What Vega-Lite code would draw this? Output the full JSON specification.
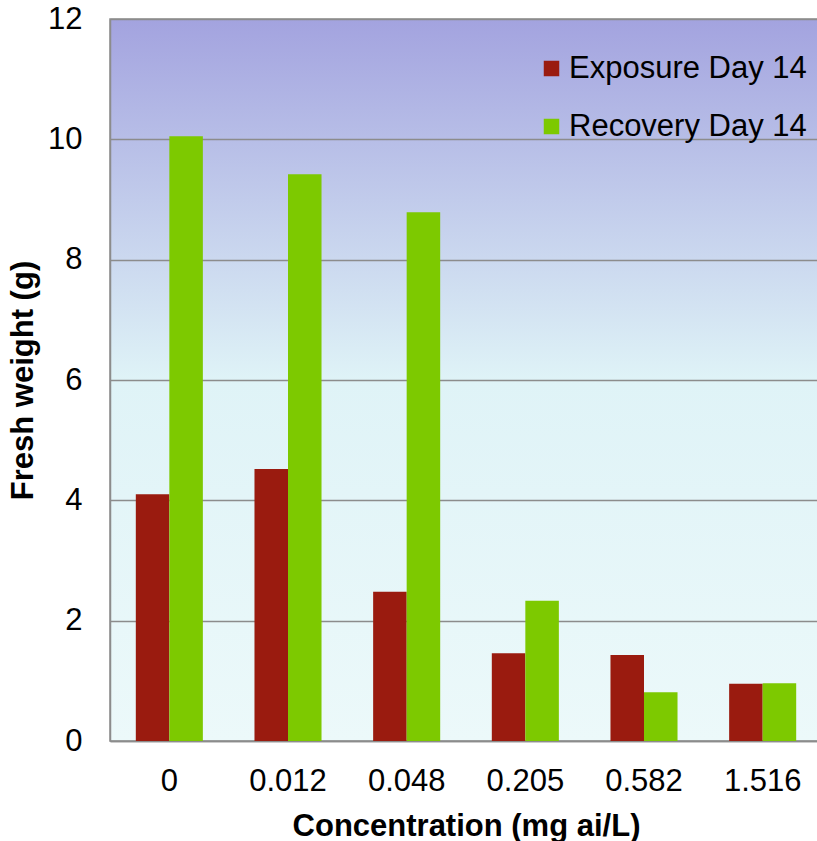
{
  "$schema": "https://vega.github.io/schema/vega-lite/v6.json",
  "autosize": {"type": "none"},
  "padding": {"left": 110, "top": 19, "right": 0, "bottom": 100},
  "width": 712,
  "height": 722,
  "background": "white",
  "view": {
    "stroke": "#8c8c8c",
    "strokeWidth": 1.5,
    "fill": {
      "gradient": "linear",
      "x1": 0, "y1": 0, "x2": 0, "y2": 1,
      "stops": [
        {"offset": 0, "color": "#A3A3DF"},
        {"offset": 0.5, "color": "#DFF3F7"},
        {"offset": 1, "color": "#ECF9FA"}
      ]
    }
  },
  "data": {
    "values": [
      {"conc": "0", "series": "Exposure Day 14", "weight": 4.10},
      {"conc": "0", "series": "Recovery Day 14", "weight": 10.05},
      {"conc": "0.012", "series": "Exposure Day 14", "weight": 4.52},
      {"conc": "0.012", "series": "Recovery Day 14", "weight": 9.42},
      {"conc": "0.048", "series": "Exposure Day 14", "weight": 2.48},
      {"conc": "0.048", "series": "Recovery Day 14", "weight": 8.79},
      {"conc": "0.205", "series": "Exposure Day 14", "weight": 1.46},
      {"conc": "0.205", "series": "Recovery Day 14", "weight": 2.33},
      {"conc": "0.582", "series": "Exposure Day 14", "weight": 1.43},
      {"conc": "0.582", "series": "Recovery Day 14", "weight": 0.81},
      {"conc": "1.516", "series": "Exposure Day 14", "weight": 0.95},
      {"conc": "1.516", "series": "Recovery Day 14", "weight": 0.96}
    ]
  },
  "mark": {"type": "bar"},
  "encoding": {
    "x": {
      "field": "conc",
      "type": "nominal",
      "sort": ["0", "0.012", "0.048", "0.205", "0.582", "1.516"],
      "scale": {"paddingInner": 0.435, "paddingOuter": 0.2175},
      "axis": {
        "title": "Concentration (mg ai/L)",
        "labelAngle": 0,
        "labelFont": "Liberation Sans",
        "labelFontSize": 31,
        "labelColor": "black",
        "labelPadding": 25,
        "ticks": false,
        "domainColor": "#8c8c8c",
        "domainWidth": 1.5,
        "titleFont": "Liberation Sans",
        "titleFontSize": 31,
        "titleFontWeight": "bold",
        "titleColor": "black",
        "titlePadding": 15
      }
    },
    "xOffset": {
      "field": "series",
      "type": "nominal",
      "scale": {"paddingInner": 0, "paddingOuter": 0}
    },
    "y": {
      "field": "weight",
      "type": "quantitative",
      "scale": {"domain": [0, 12], "nice": false},
      "axis": {
        "title": "Fresh weight (g)",
        "values": [0, 2, 4, 6, 8, 10, 12],
        "labelFont": "Liberation Sans",
        "labelFontSize": 31,
        "labelColor": "black",
        "labelPadding": 28,
        "ticks": false,
        "grid": true,
        "gridColor": "#8c8c8c",
        "gridWidth": 1.5,
        "domainColor": "#8c8c8c",
        "domainWidth": 1.5,
        "titleFont": "Liberation Sans",
        "titleFontSize": 31,
        "titleFontWeight": "bold",
        "titleColor": "black",
        "titlePadding": 8
      }
    },
    "color": {
      "field": "series",
      "type": "nominal",
      "scale": {
        "domain": ["Exposure Day 14", "Recovery Day 14"],
        "range": ["#9A1B0F", "#7DC900"]
      },
      "legend": {
        "title": null,
        "orient": "none",
        "legendX": 426,
        "legendY": 34,
        "symbolType": "square",
        "symbolSize": 240,
        "symbolStrokeWidth": 0,
        "symbolOpacity": 1,
        "labelFont": "Liberation Sans",
        "labelFontSize": 31,
        "labelColor": "black",
        "labelOffset": 2,
        "rowPadding": 26,
        "labelLimit": 400
      }
    }
  }
}
